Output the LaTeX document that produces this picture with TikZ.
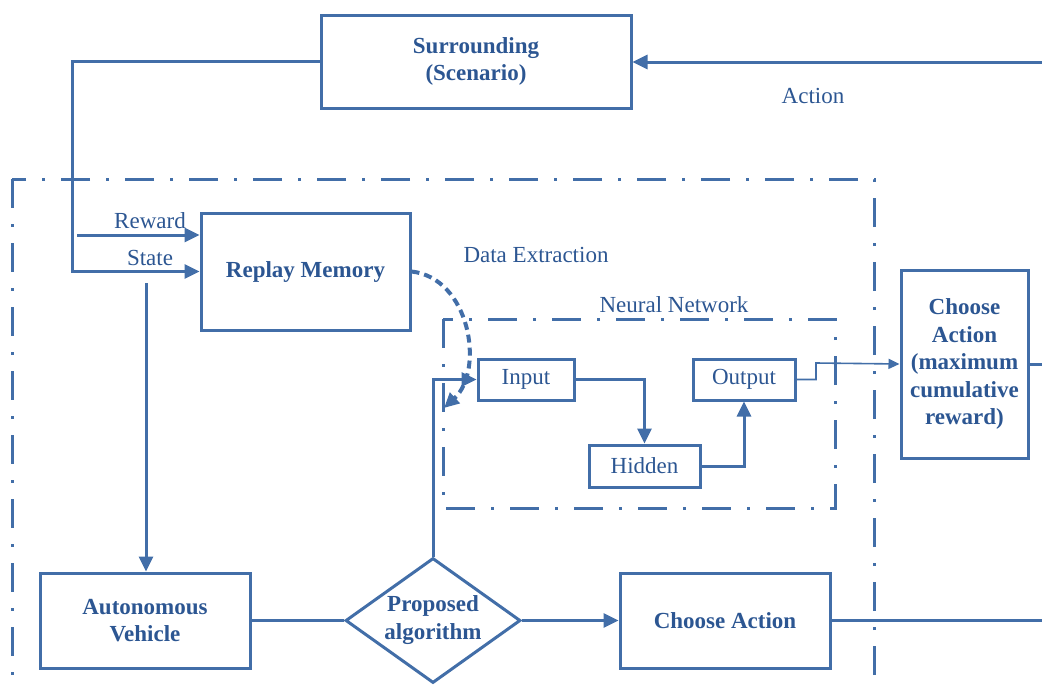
\documentclass[tikz,border=0pt]{standalone}
\usepackage{fontspec}
\setmainfont{Liberation Serif}
\usetikzlibrary{arrows.meta,shapes.geometric}

\definecolor{flow}{RGB}{66,110,168}
\definecolor{ink}{RGB}{44,86,146}

\tikzset{
  box/.style={draw=flow, line width=3pt, inner sep=0pt, align=center, text=ink,
    font=\bfseries\fontsize{23}{27.5}\selectfont},
  smallbox/.style={draw=flow, line width=3pt, inner sep=0pt, align=center, text=ink,
    font=\fontsize{23}{27}\selectfont},
  decision/.style={diamond, aspect=1.4, draw=flow, line width=3pt, inner sep=0pt,
    align=center, text=ink, font=\bfseries\fontsize{23}{28}\selectfont},
  label/.style={text=ink, inner sep=0pt, font=\fontsize{23}{27}\selectfont, anchor=base},
  link/.style={draw=flow, line width=3pt},
  arr/.style={link, -{Triangle[length=15pt,width=14pt]}},
  thinarr/.style={draw=flow, line width=1.6pt, -{Triangle[length=11pt,width=10pt]}},
  region/.style={draw=flow, line width=3pt, dash pattern=on 29pt off 16pt on 3pt off 16pt},
  curvearr/.style={draw=flow, line width=4pt, dash pattern=on 8pt off 5pt,
    -{Triangle[length=15pt,width=14pt]}}
}

\begin{document}
\begin{tikzpicture}[x=1pt,y=-1pt]
\useasboundingbox (0,0) rectangle (1042,688);
\clip (0,0) rectangle (1042,688);

% dash-dot frames
\draw[region] (12,179) rectangle (874,700);
\draw[region] (443,319) rectangle (835,508);

% blocks
\node[box, minimum width=310pt, minimum height=93pt] (sur) at (476,61.5)
  {Surrounding\\(Scenario)};
\node[box, minimum width=209pt, minimum height=117pt] (rm) at (305.5,271.5)
  {Replay Memory};
\node[box, minimum width=210pt, minimum height=95pt] (av) at (145,620.5)
  {Autonomous\\Vehicle};
\node[decision, minimum width=175pt, minimum height=125pt] (pa) at (433,620.5)
  {Proposed\\algorithm};
\node[box, minimum width=210pt, minimum height=95pt] (ca) at (725,620.5)
  {Choose Action};
\node[box, minimum width=127pt, minimum height=188pt] (cam) at (964.5,364)
  {Choose\\Action\\(maximum\\cumulative\\reward)};

% neural network layers
\node[smallbox, minimum width=96pt, minimum height=41pt] (in) at (526,379.5) {Input};
\node[smallbox, minimum width=111pt, minimum height=42pt] (hid) at (644.5,466) {Hidden};
\node[smallbox, minimum width=102pt, minimum height=41pt] (out) at (744,379.5) {Output};

% text labels
\node[label] (lrw) at (150,228) {Reward};
\node[label] (lst) at (150,265) {State};
\node[label] (lac) at (813,103) {Action};
\node[label] (lde) at (536,262) {Data Extraction};
\node[label] (lnn) at (674,312) {Neural Network};

% free ends
\coordinate (fb) at (72,271.5);
\coordinate (rw) at (77,235);
\coordinate (st) at (146,283);
\coordinate (ae) at (1046,62);
\coordinate (ce) at (1046,620.5);
\coordinate (ob) at (816,363);

% feedback loop from the environment
\draw[arr] (sur.west) -| (fb) -- (rm.west);
\draw[arr] (rw) -- (rw -| rm.west);
\draw[arr] (st) -- (st |- av.north);
\draw[arr] (ae) -- (ae -| sur.east);

% main pipeline
\draw[link] (av.east) -- (pa.west);
\draw[arr] (pa.east) -- (ca.west);
\draw[link] (ca.east) -- (ce);
\draw[arr] (pa.north) |- (in.west);

% inside the network
\draw[arr] (in.east) -| (hid.north);
\draw[arr] (hid.east) -| (out.south);
\draw[thinarr] (out.east) -- (out.east -| ob) -- (ob) -- (cam.west);
\draw[link] (cam.east) -- (cam.east -| ce);

% sampled data fed to the network
\draw[curvearr] (rm.east) .. controls (470,278) and (485,370) .. (444,408);
\end{tikzpicture}
\end{document}
